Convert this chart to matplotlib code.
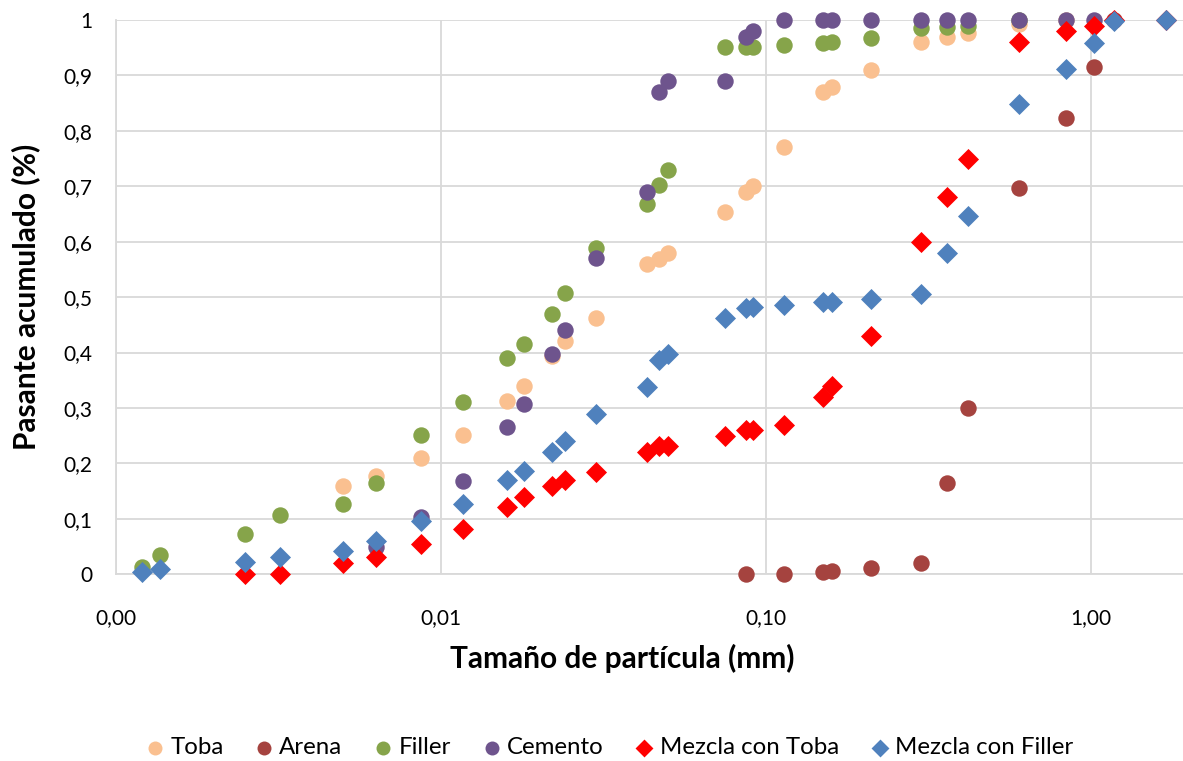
import matplotlib
matplotlib.use("Agg")
import matplotlib.pyplot as plt
from matplotlib.ticker import FixedLocator, NullLocator

plt.rcParams['font.family'] = ['Lato', 'DejaVu Sans']

# ---- data ----
sizes = [0.0012, 0.00137, 0.0025, 0.0032, 0.0050, 0.0063, 0.0087, 0.0117, 0.016, 0.018,
         0.022, 0.024, 0.030, 0.043, 0.047, 0.050, 0.075, 0.087, 0.091, 0.114,
         0.15, 0.16, 0.21, 0.30, 0.36, 0.42, 0.60, 0.84, 1.02, 1.18, 1.70]

toba_x = sizes[4:28]
toba_y = [0.159, 0.178, 0.21, 0.251, 0.313, 0.34, 0.393, 0.42, 0.463, 0.56, 0.569, 0.58,
          0.654, 0.69, 0.70, 0.77, 0.87, 0.88, 0.91, 0.96, 0.97, 0.977, 0.993, 1.0]

arena_x = [sizes[17], sizes[19], sizes[20], sizes[21], sizes[22], sizes[23], sizes[24],
           sizes[25], sizes[26], sizes[27], sizes[28], sizes[29]]
arena_y = [0.0, 0.0, 0.005, 0.006, 0.011, 0.02, 0.164, 0.30, 0.697, 0.823, 0.915, 1.0]

filler_x = sizes[0:27]
filler_y = [0.014, 0.034, 0.073, 0.107, 0.126, 0.165, 0.251, 0.31, 0.39, 0.416, 0.469, 0.508,
            0.588, 0.668, 0.703, 0.729, 0.951, 0.951, 0.951, 0.954, 0.959, 0.961, 0.968,
            0.985, 0.988, 0.99, 1.0]

cemento_x = sizes[5:29]
cemento_y = [0.05, 0.104, 0.168, 0.265, 0.308, 0.398, 0.441, 0.57, 0.69, 0.871, 0.89, 0.89,
             0.97, 0.98, 1.0, 1.0, 1.0, 1.0, 1.0, 1.0, 1.0, 1.0, 1.0, 1.0]

mtoba_x = sizes[2:31]
mtoba_y = [0.0, 0.0, 0.020, 0.032, 0.054, 0.082, 0.121, 0.14, 0.16, 0.17, 0.185, 0.221,
           0.232, 0.231, 0.25, 0.26, 0.26, 0.27, 0.32, 0.339, 0.43, 0.60, 0.68, 0.75, 0.96,
           0.981, 0.99, 1.0, 1.0]

mfiller_x = sizes
mfiller_y = [0.004, 0.009, 0.022, 0.032, 0.042, 0.06, 0.096, 0.126, 0.17, 0.187, 0.221,
             0.241, 0.29, 0.338, 0.387, 0.398, 0.463, 0.48, 0.482, 0.486, 0.491, 0.491,
             0.496, 0.506, 0.579, 0.647, 0.848, 0.912, 0.958, 0.998, 1.0]

x_ticks = [0.001, 0.01, 0.1, 1.0]
x_tick_labels = ["0,00", "0,01", "0,10", "1,00"]
y_ticks = [0, 0.1, 0.2, 0.3, 0.4, 0.5, 0.6, 0.7, 0.8, 0.9, 1.0]
y_tick_labels = ["0", "0,1", "0,2", "0,3", "0,4", "0,5", "0,6", "0,7", "0,8", "0,9", "1"]

# ---- figure ----
fig = plt.figure(figsize=(11.83, 7.61), dpi=100)
ax = fig.add_axes([116 / 1183, (761 - 574.3) / 761, (1183 - 116) / 1183, (574.3 - 20) / 761])

grid_c = "#D9D9D9"
circ = 140
diam = 115
series = [
    ("Toba", toba_x, toba_y, "#FAC090", "o", circ),
    ("Arena", arena_x, arena_y, "#A5433F", "o", circ),
    ("Filler", filler_x, filler_y, "#86A44A", "o", circ),
    ("Cemento", cemento_x, cemento_y, "#6E548D", "o", circ),
    ("Mezcla con Toba", mtoba_x, mtoba_y, "#FF0000", "D", diam),
    ("Mezcla con Filler", mfiller_x, mfiller_y, "#4F81BD", "D", diam),
]
for i, (name, xs, ys, c, m, s) in enumerate(series):
    ax.scatter(xs, ys, s=s, c=c, marker=m, linewidths=0, label=name,
               clip_on=False, zorder=3 + i)

ax.set_xscale("log")
ax.set_xlim(0.001, 1.92)
ax.set_ylim(0, 1)
ax.xaxis.set_major_locator(FixedLocator(x_ticks))
ax.xaxis.set_minor_locator(NullLocator())
ax.set_xticks(x_ticks)
ax.set_xticklabels(x_tick_labels)
ax.set_yticks(y_ticks)
ax.set_yticklabels(y_tick_labels)
ax.tick_params(axis="both", length=0, labelsize=15, colors="#000000")
ax.tick_params(axis="x", pad=24)
ax.tick_params(axis="y", pad=17)

ax.grid(True, which="major", color=grid_c, linewidth=1.3)
ax.set_axisbelow(True)
for sp in ["top", "right"]:
    ax.spines[sp].set_visible(False)
for sp in ["left", "bottom"]:
    ax.spines[sp].set_color(grid_c)
    ax.spines[sp].set_linewidth(1.3)

ax.set_xlabel("Tamaño de partícula (mm)", fontsize=21.5, fontweight="bold")
ax.set_ylabel("Pasante acumulado (%)", fontsize=21.5, fontweight="bold")
ax.xaxis.label.set_verticalalignment("center")
ax.yaxis.label.set_verticalalignment("center")
ax.xaxis.set_label_coords((622 - 116) / (1183 - 116), -(658 - 574.3) / (574.3 - 20))
ax.yaxis.set_label_coords(-(116 - 26) / (1183 - 116), (574.3 - 297) / (574.3 - 20))

leg = fig.legend(loc="center", bbox_to_anchor=(608 / 1183, 1 - 748 / 761), ncol=6,
                 frameon=False, fontsize=17.3, handlelength=1.0, handletextpad=0.13,
                 columnspacing=1.2, scatterpoints=1, markerscale=0.85)

fig.savefig("out.png", dpi=100)
